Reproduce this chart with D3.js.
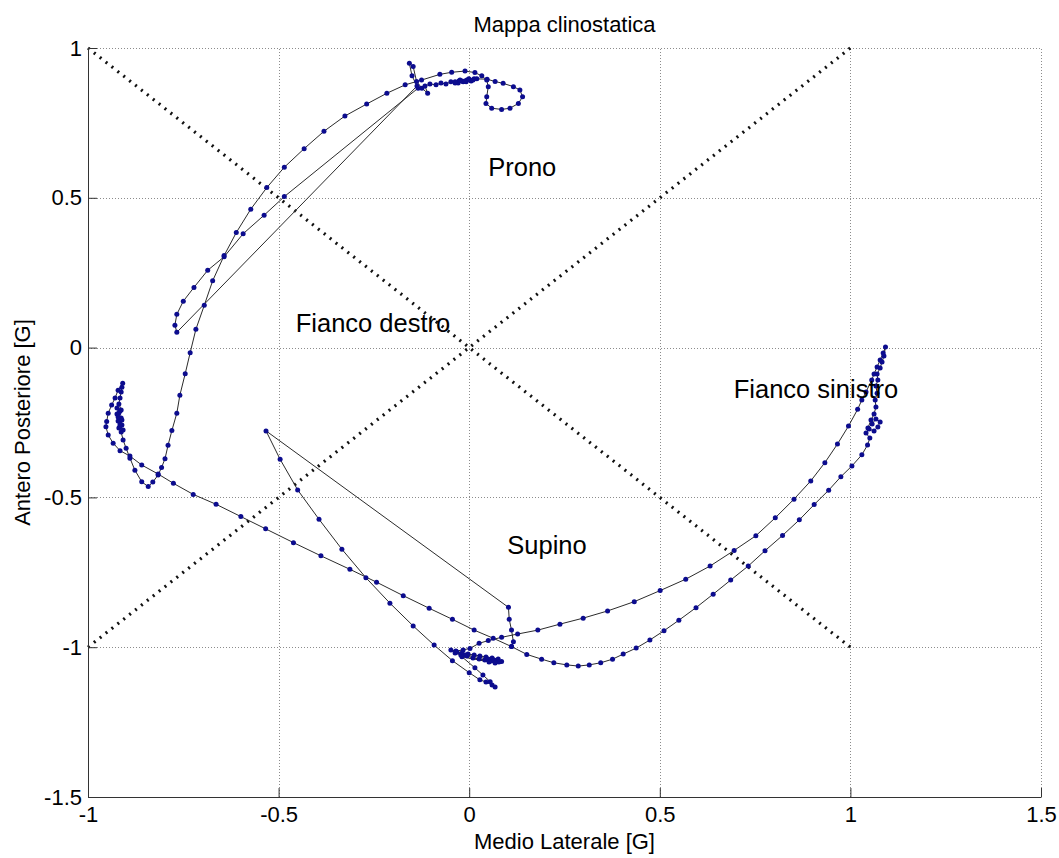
<!DOCTYPE html>
<html>
<head>
<meta charset="utf-8">
<script src="https://cdn.jsdelivr.net/npm/d3@7"></script>
<style>
  html, body { margin: 0; padding: 0; background: #fff; }
  svg { display: block; font-family: "Liberation Sans", Arial, sans-serif; }
</style>
</head>
<body>
<svg id="chart" width="1059" height="858"></svg>
<script>
// Acceleration trace [medio-laterale, antero-posteriore] in G, split by posture phase.
const pronoPath = [
  [-0.134,0.866],[-0.485,0.504],[-0.538,0.442],[-0.593,0.380],[-0.643,0.303],[-0.686,0.258],
  [-0.722,0.201],[-0.750,0.155],[-0.767,0.111],[-0.772,0.075],[-0.767,0.051],
  [-0.137,0.873],[-0.150,0.907],[-0.157,0.949],[-0.147,0.938],[-0.138,0.888],[-0.124,0.866],[-0.109,0.849],
  [-0.116,0.873],[-0.103,0.880],[-0.087,0.877],[-0.074,0.883],[-0.061,0.880],[-0.048,0.887],[-0.037,0.883],
  [-0.027,0.890],[-0.016,0.887],[-0.006,0.893],[0.005,0.890],[0.013,0.897],[0.002,0.893],[-0.008,0.887],
  [-0.019,0.890],[-0.029,0.883],[-0.037,0.887],[-0.024,0.893],[-0.011,0.890],[-0.001,0.897],[0.010,0.893],
  [0.020,0.897],
  [0.047,0.896],[0.068,0.888],[0.089,0.882],[0.116,0.871],[0.133,0.860],[0.140,0.837],[0.129,0.815],
  [0.107,0.799],[0.085,0.795],[0.059,0.799],[0.044,0.815],[0.046,0.837],[0.050,0.871],[0.046,0.893],
  [0.033,0.907],[0.015,0.918],[-0.011,0.923],[-0.046,0.919],[-0.077,0.912],[-0.125,0.893],[-0.168,0.877],
  [-0.216,0.849]
];
const destroPath = [
  [-0.269,0.813],[-0.326,0.773],[-0.381,0.722],[-0.433,0.664],[-0.485,0.602],[-0.531,0.534],[-0.573,0.462],
  [-0.611,0.384],[-0.643,0.307],[-0.673,0.223],[-0.695,0.141],[-0.717,0.061],[-0.732,-0.017],[-0.745,-0.087],
  [-0.759,-0.159],[-0.767,-0.219],[-0.780,-0.277],[-0.790,-0.326],[-0.798,-0.371],[-0.807,-0.400],
  [-0.816,-0.425],[-0.830,-0.449],[-0.842,-0.464],[-0.859,-0.448],[-0.877,-0.409],[-0.890,-0.369],
  [-0.900,-0.336],[-0.908,-0.308],
  [-0.913,-0.282],[-0.919,-0.268],[-0.911,-0.258],[-0.921,-0.245],[-0.913,-0.235],[-0.924,-0.222],
  [-0.916,-0.212],[-0.924,-0.202],[-0.919,-0.218],[-0.911,-0.242],[-0.916,-0.262],[-0.908,-0.275],
  [-0.916,-0.255],[-0.921,-0.232],[-0.913,-0.208],[-0.919,-0.188],[-0.916,-0.168],[-0.913,-0.148],
  [-0.911,-0.132],[-0.909,-0.119],
  [-0.921,-0.142],[-0.929,-0.168],[-0.938,-0.192],[-0.947,-0.219],[-0.951,-0.247],[-0.953,-0.264],
  [-0.947,-0.292],[-0.934,-0.319],[-0.916,-0.344]
];
const rollPath = [
  [-0.890,-0.362],[-0.859,-0.392],[-0.816,-0.422],[-0.776,-0.453],[-0.724,-0.490],[-0.664,-0.523],
  [-0.599,-0.564],[-0.534,-0.605],[-0.461,-0.651],[-0.389,-0.695],[-0.313,-0.740],[-0.243,-0.783],
  [-0.173,-0.828],[-0.105,-0.870],[-0.044,-0.907],[0.013,-0.943],[0.063,-0.970],[0.111,-0.998],
  [0.151,-1.024],[0.190,-1.040],[0.222,-1.052],[0.256,-1.059],[0.286,-1.063],[0.315,-1.059],
  [0.345,-1.052],[0.376,-1.040],[0.404,-1.023],[0.438,-1.003],[0.474,-0.976],[0.511,-0.945],
  [0.550,-0.910],[0.595,-0.868],[0.640,-0.823],[0.686,-0.776],[0.732,-0.729],[0.776,-0.678],
  [0.822,-0.627],[0.866,-0.575],[0.905,-0.524],[0.943,-0.476],[0.975,-0.431],[1.004,-0.395],
  [1.030,-0.358],[1.045,-0.325]
];
const sinistroPath = [
  [1.051,-0.302],[1.041,-0.285],[1.049,-0.272],[1.062,-0.278],[1.072,-0.265],[1.078,-0.248],[1.067,-0.238],
  [1.057,-0.255],[1.046,-0.268],[1.054,-0.242],[1.062,-0.222],[1.067,-0.198],[1.065,-0.175],[1.070,-0.152],
  [1.067,-0.128],[1.072,-0.108],[1.070,-0.088],[1.078,-0.068],[1.083,-0.048],[1.088,-0.028],[1.092,0.002],
  [1.086,-0.018],[1.078,-0.041],[1.070,-0.065],[1.062,-0.088],[1.056,-0.108],[1.041,-0.148],[1.030,-0.175],
  [1.019,-0.206],[0.995,-0.262],[0.966,-0.322],[0.933,-0.384],[0.896,-0.445],[0.852,-0.506],[0.803,-0.568],
  [0.752,-0.628],[0.695,-0.677],[0.632,-0.729],[0.568,-0.773],[0.501,-0.811],[0.433,-0.848],[0.363,-0.879],
  [0.299,-0.903],[0.238,-0.923],[0.180,-0.943],[0.127,-0.956],[0.085,-0.967],[0.050,-0.978],[0.026,-0.987],
  [0.002,-1.004]
];
const supinoPath = [
  [-0.016,-1.009],[-0.035,-1.013],[-0.048,-1.009],[-0.037,-1.019],[-0.022,-1.026],[-0.006,-1.029],
  [0.010,-1.036],[0.026,-1.039],[0.041,-1.043],[0.057,-1.046],[0.073,-1.046],[0.085,-1.048],[0.076,-1.039],
  [0.060,-1.036],[0.044,-1.033],[0.028,-1.029],[0.013,-1.026],[-0.003,-1.023],[-0.019,-1.019],[-0.032,-1.016],
  [-0.010,-1.026],[0.049,-1.039],[0.065,-1.043],[0.078,-1.049],[0.068,-1.053],[0.052,-1.049],[-0.019,-1.032],
  [0.015,-1.069],[0.036,-1.093],[0.055,-1.115],[0.068,-1.133],[0.060,-1.126],[0.044,-1.116],[0.028,-1.109],
  [0.000,-1.085],[-0.044,-1.045],[-0.092,-0.993],[-0.147,-0.929],[-0.208,-0.853],[-0.271,-0.768],
  [-0.334,-0.673],[-0.394,-0.573],[-0.450,-0.475],[-0.496,-0.373],[-0.533,-0.278],
  [0.103,-0.867],[0.105,-0.907],[0.111,-0.943],[0.116,-0.982],[0.111,-0.998]
];

// Quadrant separators (diagonals through the origin)
const diagonals = [
  [[-1, 1], [1, -1]],
  [[-1, -1], [1, 1]]
];

// Posture labels and their anchor positions (G)
const postureNames = ["Prono", "Fianco destro", "Fianco sinistro", "Supino"];
const postureML = [0.05, -0.455, 0.694, 0.1];
const postureAP = [0.6, 0.08, -0.14, -0.66];

const xTicks = [-1, -0.5, 0, 0.5, 1, 1.5];
const yTicks = [-1.5, -1, -0.5, 0, 0.5, 1];

const chartTitle = "Mappa clinostatica";
const xTitle = "Medio Laterale [G]";
const yTitle = "Antero Posteriore [G]";

// ---- layout ----
const W = 1059, H = 858;
const margin = { top: 48, right: 18, bottom: 61, left: 88 };
const svg = d3.select("#chart");
svg.append("rect").attr("width", W).attr("height", H).attr("fill", "#fff");

const x = d3.scaleLinear().domain([xTicks[0], xTicks[xTicks.length - 1]]).range([margin.left, W - margin.right]);
const y = d3.scaleLinear().domain([yTicks[0], yTicks[yTicks.length - 1]]).range([H - margin.bottom, margin.top]);

// dotted grid
const grid = svg.append("g")
  .attr("stroke", "#8c8c8c").attr("stroke-width", 1)
  .attr("stroke-dasharray", "1,2").attr("shape-rendering", "crispEdges");
grid.selectAll("line.gx").data(xTicks.slice(1)).join("line")
  .attr("x1", d => Math.round(x(d)) + 0.5).attr("x2", d => Math.round(x(d)) + 0.5)
  .attr("y1", y(yTicks[0])).attr("y2", y(yTicks[yTicks.length - 1]));
grid.selectAll("line.gy").data(yTicks.slice(1)).join("line")
  .attr("y1", d => Math.round(y(d)) + 0.5).attr("y2", d => Math.round(y(d)) + 0.5)
  .attr("x1", x(xTicks[0])).attr("x2", x(xTicks[xTicks.length - 1]));

// diagonals
svg.append("g").selectAll("line").data(diagonals).join("line")
  .attr("x1", d => x(d[0][0])).attr("y1", d => y(d[0][1]))
  .attr("x2", d => x(d[1][0])).attr("y2", d => y(d[1][1]))
  .attr("stroke", "#111").attr("stroke-width", 3.2)
  .attr("stroke-dasharray", "2,5.5");

// trajectory
const trace = [].concat(pronoPath, destroPath, rollPath, sinistroPath, supinoPath);
const line = d3.line().x(d => x(d[0])).y(d => y(d[1]));
svg.append("path").datum(trace)
  .attr("d", line).attr("fill", "none")
  .attr("stroke", "#2b2b2b").attr("stroke-width", 1);
svg.append("g").selectAll("circle").data(trace).join("circle")
  .attr("cx", d => x(d[0])).attr("cy", d => y(d[1])).attr("r", 2.5)
  .attr("fill", "#0c0c8e");

// axes (left and bottom only, ticks pointing inward)
const fmt = d => String(d);
const xAxis = svg.append("g").attr("transform", `translate(0,${y(yTicks[0])})`)
  .call(d3.axisBottom(x).tickValues(xTicks).tickFormat(fmt).tickSizeInner(-9).tickSizeOuter(0).tickPadding(9));
const yAxis = svg.append("g").attr("transform", `translate(${x(xTicks[0])},0)`)
  .call(d3.axisLeft(y).tickValues(yTicks).tickFormat(fmt).tickSizeInner(-9).tickSizeOuter(0).tickPadding(6));
[xAxis, yAxis].forEach(a => {
  a.select(".domain").attr("stroke", "#333");
  a.selectAll(".tick line").attr("stroke", "#333");
  a.selectAll(".tick text").attr("fill", "#000").style("font-size", "22px")
    .style("font-family", '"Liberation Sans", Arial, sans-serif');
});

// titles
svg.append("text").attr("x", (x.range()[0] + x.range()[1]) / 2).attr("y", 32)
  .attr("text-anchor", "middle").style("font-size", "22px").text(chartTitle);
svg.append("text").attr("x", (x.range()[0] + x.range()[1]) / 2).attr("y", 849)
  .attr("text-anchor", "middle").style("font-size", "22px").text(xTitle);
svg.append("text").attr("transform", `translate(30,${(y.range()[0] + y.range()[1]) / 2}) rotate(-90)`)
  .attr("text-anchor", "middle").style("font-size", "22px").text(yTitle);

// posture labels
svg.append("g").selectAll("text").data(postureNames).join("text")
  .attr("x", (d, i) => x(postureML[i])).attr("y", (d, i) => y(postureAP[i]))
  .attr("dy", "0.33em").style("font-size", "25.5px").attr("fill", "#000")
  .text(d => d);
</script>
</body>
</html>
